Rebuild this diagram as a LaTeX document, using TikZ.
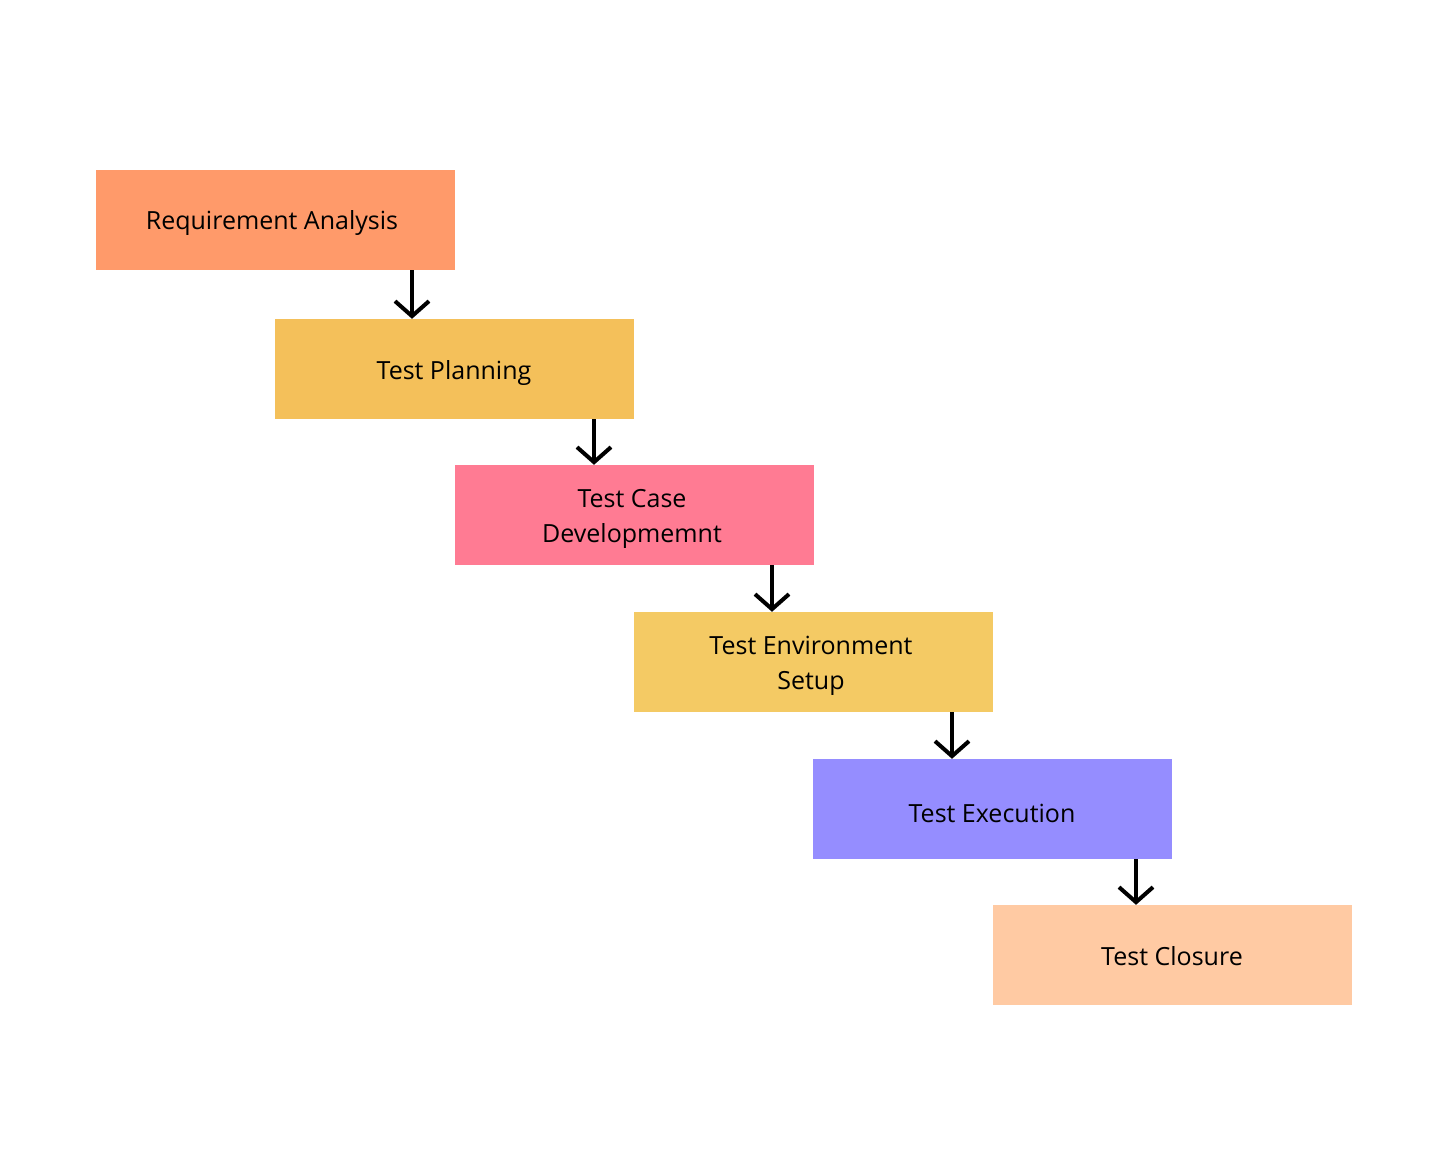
\documentclass[tikz,border=0pt]{standalone}
\usepackage{fontspec}
\setmainfont{Open Sans}
\usetikzlibrary{arrows.meta}
\definecolor{c1}{HTML}{FF9A6A}
\definecolor{c2}{HTML}{F4C05A}
\definecolor{c3}{HTML}{FF7B93}
\definecolor{c4}{HTML}{F4CA64}
\definecolor{c5}{HTML}{958DFF}
\definecolor{c6}{HTML}{FFCAA3}
\begin{document}
\begin{tikzpicture}[x=1pt,y=-1pt,
  stage/.style={rectangle, minimum width=359pt, minimum height=100pt, inner sep=0pt, align=center, text=black},
  lbl/.style={inner sep=0pt, align=center, font=\fontsize{25}{35}\selectfont, text=black},
  arr/.style={line width=4pt, -{Straight Barb[length=15pt,width=34pt,line width=4pt]}}]
\useasboundingbox[fill=white] (0,0) rectangle (1448,1175);
\node[stage, fill=c1] (a) at (275.5,220) {};
\node[lbl] (at) at (272,223) {Requirement Analysis};
\node[stage, fill=c2] (b) at (454.5,369) {};
\node[lbl] (bt) at (454,373) {Test Planning};
\node[stage, fill=c3] (c) at (634.5,515) {};
\node[lbl] (ct) at (632,519) {Test Case\\Developmemnt};
\node[stage, fill=c4] (d) at (813.5,662) {};
\node[lbl] (dt) at (811,666) {Test Environment\\Setup};
\node[stage, fill=c5] (e) at (992.5,809) {};
\node[lbl] (et) at (992,813) {Test Execution};
\node[stage, fill=c6] (f) at (1172.5,955) {};
\node[lbl] (ft) at (1172,956) {Test Closure};
\draw[arr] (a.south -| 412,0) -- (b.north -| 412,0);
\draw[arr] (b.south -| 594,0) -- (c.north -| 594,0);
\draw[arr] (c.south -| 772,0) -- (d.north -| 772,0);
\draw[arr] (d.south -| 952,0) -- (e.north -| 952,0);
\draw[arr] (e.south -| 1136,0) -- (f.north -| 1136,0);
\end{tikzpicture}
\end{document}
